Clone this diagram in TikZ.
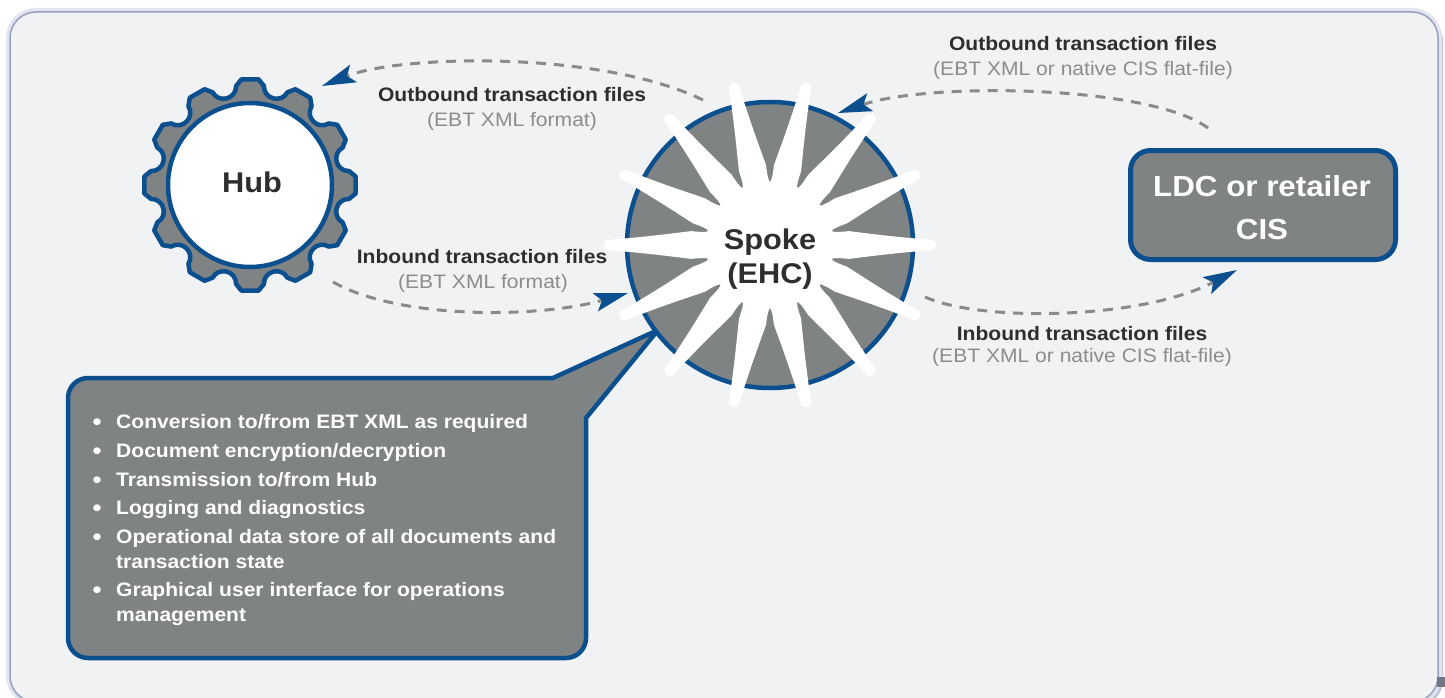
\documentclass[tikz,border=0pt]{standalone}
\usepackage{fontspec}
\setmainfont{Liberation Sans}[FakeStretch=1.08]
\usetikzlibrary{arrows.meta}
\definecolor{bgfill}{HTML}{F1F2F4}
\definecolor{boxgray}{HTML}{808384}
\definecolor{myblue}{HTML}{0B4F8E}
\definecolor{darktext}{HTML}{2E2E2E}
\definecolor{subgray}{HTML}{8C8C8C}
\definecolor{dashgray}{HTML}{8A8A8A}
\definecolor{edgeA}{HTML}{E2E5EE}
\definecolor{edgeB}{HTML}{B9C1D7}
\definecolor{edgeC}{HTML}{96A2C0}
\definecolor{cornergray}{HTML}{6F7685}
\begin{document}
\begin{tikzpicture}[x=1pt,y=-1pt,
  flow/.style={dashgray, line width=3pt, dash pattern=on 10pt off 8pt,
    -{Stealth[length=34pt,width=19pt,inset=7pt,color=myblue,line width=0pt]}},
  lbltitle/.style={anchor=base, text=darktext, font=\fontsize{19.5}{23}\selectfont\bfseries, inner sep=0pt},
  lblsub/.style={anchor=base, text=subgray, font=\fontsize{19.5}{23}\selectfont, inner sep=0pt},
  bulletitem/.style={anchor=base west, text=white, font=\fontsize{19.5}{23}\selectfont\bfseries, inner sep=0pt},
  bulletdot/.style={anchor=base, text=white, font=\fontsize{25}{25}\selectfont, inner sep=0pt},
  bluestroke/.style={draw=myblue, line width=4.5pt},
]
\useasboundingbox (0,0) rectangle (1445,698);
\fill[white] (0,0) rectangle (1445,698);
% background panel
\begin{scope}
  \clip (0,0) rectangle (1445,698);
  \fill[edgeB, rounded corners=26pt] (13,15) rectangle (1443,706);
  \draw[edgeA, line width=8pt, rounded corners=26pt] (10,12) rectangle (1438,702);
  \filldraw[fill=bgfill, draw=edgeC, line width=1.5pt, rounded corners=26pt] (10,12) rectangle (1438,702);
  \fill[cornergray] (1437,677) rectangle (1445,687);
\end{scope}

% connectors
\coordinate (a1s) at (703,100); \coordinate (a1e) at (322,86);
\coordinate (a2s) at (333,282); \coordinate (a2e) at (628,293);
\coordinate (a3s) at (1208,128); \coordinate (a3e) at (838,113);
\coordinate (a4s) at (925,297); \coordinate (a4e) at (1237,270);
\draw[flow] (a1s) .. controls (600,50) and (400,55) .. (a1e);
\draw[flow] (a2s) .. controls (400,320) and (540,318) .. (a2e);
\draw[flow] (a3s) .. controls (1150,85) and (930,82) .. (a3e);
\draw[flow] (a4s) .. controls (980,322) and (1140,320) .. (a4e);

% callout
\filldraw[fill=boxgray, bluestroke, line join=miter]
  (68,398) .. controls (68,387) and (77,378) .. (88,378) -- (553,378) -- (658,330) -- (586,418)
  -- (586,638) .. controls (586,649) and (577,658) .. (566,658) -- (88,658)
  .. controls (77,658) and (68,649) .. (68,638) -- cycle;

% hub gear
\begin{scope}[shift={(250,185)}]
  \filldraw[fill=boxgray, bluestroke, line join=round] (85.4:106)
    \foreach \k [evaluate=\k as \t using 90+30*\k] in {0,...,11} {
      -- ({\t+4.6}:106) -- ({\t+8}:100)
      .. controls ({\t+9}:87) and ({\t+21}:87) .. ({\t+22}:100)
      -- ({\t+25.4}:106)
    } -- cycle;
\end{scope}
\node[circle, fill=white, bluestroke, minimum size=164pt, inner sep=0pt] (hub) at (250,185) {};
\node[text=darktext, font=\fontsize{28.5}{34}\selectfont\bfseries, inner sep=0pt] (hublabel) at (252,182) {Hub};

% spoke
\node[circle, fill=boxgray, bluestroke, minimum size=286pt, inner sep=0pt] (spokecirc) at (770,245) {};
\begin{scope}[shift={(770,245)}]
  \fill[white] (-1.8:163)
    \foreach \k [evaluate=\k as \t using \k*25.7142857] in {0,...,13} {
      .. controls ({\t-0.9}:167.5) and ({\t+0.9}:167.5) .. ({\t+1.8}:163)
      .. controls ({\t+3.6}:125) and ({\t+7}:97) .. ({\t+10}:80)
      .. controls ({\t+11.5}:58) and ({\t+14.214}:58) .. ({\t+15.714}:80)
      .. controls ({\t+18.714}:97) and ({\t+22.114}:125) .. ({\t+23.914}:163)
    } -- cycle;
\end{scope}
\node[text=darktext, font=\fontsize{28.5}{34}\selectfont\bfseries, align=center, inner sep=0pt] (spoke) at (770,259.5) {Spoke\\(EHC)};

% LDC box
\node[rounded corners=20pt, fill=boxgray, draw=myblue, line width=5pt, minimum width=265pt, minimum height=109pt] (ldc) at (1263,205) {};
\node[text=white, font=\fontsize{29}{43}\selectfont\bfseries, align=center, inner sep=0pt] (ldctext) at (1262,208) {LDC or retailer\\CIS};

% labels
\node[lbltitle] (l1t) at (512,102) {Outbound transaction files};
\node[lblsub] (l1s) at (512,127) {(EBT XML format)};
\node[lbltitle] (l2t) at (482,263) {Inbound transaction files};
\node[lblsub] (l2s) at (483,288) {(EBT XML format)};
\node[lbltitle] (l3t) at (1083,51) {Outbound transaction files};
\node[lblsub] (l3s) at (1083,76) {(EBT XML or native CIS flat-file)};
\node[lbltitle] (l4t) at (1082,340) {Inbound transaction files};
\node[lblsub] (l4s) at (1082,362) {(EBT XML or native CIS flat-file)};

% bullets
\node[bulletdot] (d1) at (97,430) {•};
\node[bulletitem] (b1) at (116,428) {Conversion to/from EBT XML as required};
\node[bulletdot] (d2) at (97,459) {•};
\node[bulletitem] (b2) at (116,457) {Document encryption/decryption};
\node[bulletdot] (d3) at (97,488) {•};
\node[bulletitem] (b3) at (116,486) {Transmission to/from Hub};
\node[bulletdot] (d4) at (97,516) {•};
\node[bulletitem] (b4) at (116,514) {Logging and diagnostics};
\node[bulletdot] (d5) at (97,545) {•};
\node[bulletitem] (b5) at (116,543) {Operational data store of all documents and};
\node[bulletitem] (b5b) at (116,568) {transaction state};
\node[bulletdot] (d6) at (97,598) {•};
\node[bulletitem] (b6) at (116,596) {Graphical user interface for operations};
\node[bulletitem] (b6b) at (116,621) {management};
\end{tikzpicture}
\end{document}
